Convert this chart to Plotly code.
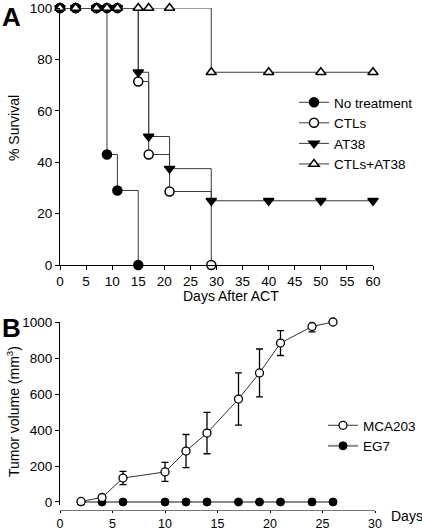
import plotly.graph_objects as go

W, H = 422, 529

# ---- Panel A data (Kaplan-Meier) ----
nt_days = [0, 3, 7, 9, 11, 15]
nt_surv = [100, 100, 100, 43, 29, 0]
ctl_days = [0, 3, 7, 9, 11, 15, 17, 21, 29]
ctl_surv = [100, 100, 100, 100, 100, 71.4, 43, 28.6, 0]
at_days = [0, 3, 7, 9, 11, 15, 17, 21, 29, 40, 50, 60]
at_surv = [100, 100, 100, 100, 100, 75, 50, 37.5, 25, 25, 25, 25]
ca_days = [0, 3, 7, 9, 11, 15, 17, 21, 29, 40, 50, 60]
ca_surv = [100, 100, 100, 100, 100, 100, 100, 100, 75, 75, 75, 75]
a_xticks = [0, 5, 10, 15, 20, 25, 30, 35, 40, 45, 50, 55, 60]
a_yticks = [0, 20, 40, 60, 80, 100]

# ---- Panel B data (tumor volume) ----
mca_days = [2, 4, 6, 10, 12, 14, 17, 19, 21, 24, 26]
mca_vol = [3, 25, 133, 167, 283, 383, 572, 717, 883, 975, 1000]
mca_err = [0, 10, 37, 53, 92, 115, 145, 133, 69, 30, 0]
eg7_days = [2, 4, 6, 10, 12, 14, 17, 19, 21, 24, 26]
eg7_vol = [0, 0, 0, 0, 0, 0, 0, 0, 0, 0, 0]
b_xticks = [0, 5, 10, 15, 20, 25, 30]
b_yticks = [0, 200, 400, 600, 800, 1000]

FONT = "Liberation Sans, Arial, sans-serif"
LC = "#3a3a3a"

fig = go.Figure()

def km(x, y, name, symbol, fill):
    fig.add_trace(go.Scatter(
        x=x, y=y, name=name, mode="lines+markers", line_shape="hv",
        line=dict(color=LC, width=1),
        marker=dict(symbol=symbol, size=9, color=fill,
                    line=dict(color="black", width=1.5)),
        xaxis="x", yaxis="y", legend="legend", cliponaxis=False))

km(nt_days, nt_surv, "No treatment", "circle", "black")
km(ctl_days, ctl_surv, "CTLs", "circle", "white")
km(at_days, at_surv, "AT38", "triangle-down", "black")
km(ca_days, ca_surv, "CTLs+AT38", "triangle-up", "white")

fig.add_trace(go.Scatter(
    x=eg7_days, y=eg7_vol, name="EG7", mode="lines+markers",
    line=dict(color="#8a8a8a", width=2),
    marker=dict(symbol="circle", size=8, color="black", line=dict(color="black", width=1)),
    xaxis="x2", yaxis="y2", legend="legend2", cliponaxis=False))
fig.add_trace(go.Scatter(
    x=mca_days, y=mca_vol, name="MCA203", mode="lines+markers",
    line=dict(color="#333", width=1),
    marker=dict(symbol="circle", size=8, color="white", line=dict(color="black", width=1.3)),
    error_y=dict(type="data", array=mca_err, visible=True, color="black",
                 thickness=1.3, width=3.5),
    xaxis="x2", yaxis="y2", legend="legend2", cliponaxis=False))

def px(x):
    return x / W

def py(y):
    return 1 - y / H

axfont = dict(family=FONT, size=13.5, color="black")
common = dict(showgrid=False, zeroline=False, showline=True, linecolor="black",
              linewidth=1, ticks="outside", ticklen=4, tickwidth=1,
              tickcolor="black", tickfont=axfont, automargin=False)

x2opts = {**common, "linecolor": "#777", "ticklen": 2,
          "tickfont": dict(family=FONT, size=12.5, color="black")}

fig.update_layout(
    width=W, height=H, margin=dict(l=0, r=0, t=0, b=0, autoexpand=False),
    paper_bgcolor="white", plot_bgcolor="white",
    font=dict(family=FONT, color="black"),
    xaxis=dict(domain=[px(60), px(373)], range=[0, 60], tickvals=a_xticks,
               anchor="y", **common),
    yaxis=dict(domain=[py(265), py(8)], range=[0, 100], tickvals=a_yticks,
               anchor="x", **common),
    xaxis2=dict(domain=[px(60), px(375)], range=[0, 30], tickvals=b_xticks,
                anchor="free", position=py(510), **x2opts),
    yaxis2=dict(domain=[py(505), py(322)], range=[-16.7, 1000], tickvals=b_yticks,
                anchor="x2", **common),
    legend=dict(x=px(294), y=py(87), xanchor="left", yanchor="top",
                font=dict(family=FONT, size=13.5), bgcolor="rgba(0,0,0,0)",
                itemwidth=30, tracegroupgap=0),
    legend2=dict(x=px(323), y=py(410), xanchor="left", yanchor="top",
                 font=dict(family=FONT, size=13.5), bgcolor="rgba(0,0,0,0)",
                 itemwidth=30, traceorder="reversed"),
    showlegend=True,
)

ann = [
    dict(text="<b>A</b>", x=px(0), y=py(0), xanchor="left", yanchor="top",
         font=dict(family=FONT, size=26)),
    dict(text="<b>B</b>", x=px(0), y=py(311), xanchor="left", yanchor="top",
         font=dict(family=FONT, size=26)),
    dict(text="% Survival", x=px(14), y=py(128), textangle=-90,
         xanchor="center", yanchor="middle", font=dict(family=FONT, size=14)),
    dict(text="Days After ACT", x=px(231), y=py(296),
         xanchor="center", yanchor="middle", font=dict(family=FONT, size=14)),
    dict(text="Tumor volume (mm<sup>3</sup>)", x=px(13), y=py(412), textangle=-90,
         xanchor="center", yanchor="middle", font=dict(family=FONT, size=14)),
    dict(text="Days", x=px(407), y=py(516),
         xanchor="center", yanchor="middle", font=dict(family=FONT, size=14)),
]
for a in ann:
    a.update(xref="paper", yref="paper", showarrow=False)
fig.update_layout(annotations=ann)

fig.write_html("out.html", config={"displayModeBar": False},
               post_script="document.body.style.margin='0';document.body.style.padding='0';")
